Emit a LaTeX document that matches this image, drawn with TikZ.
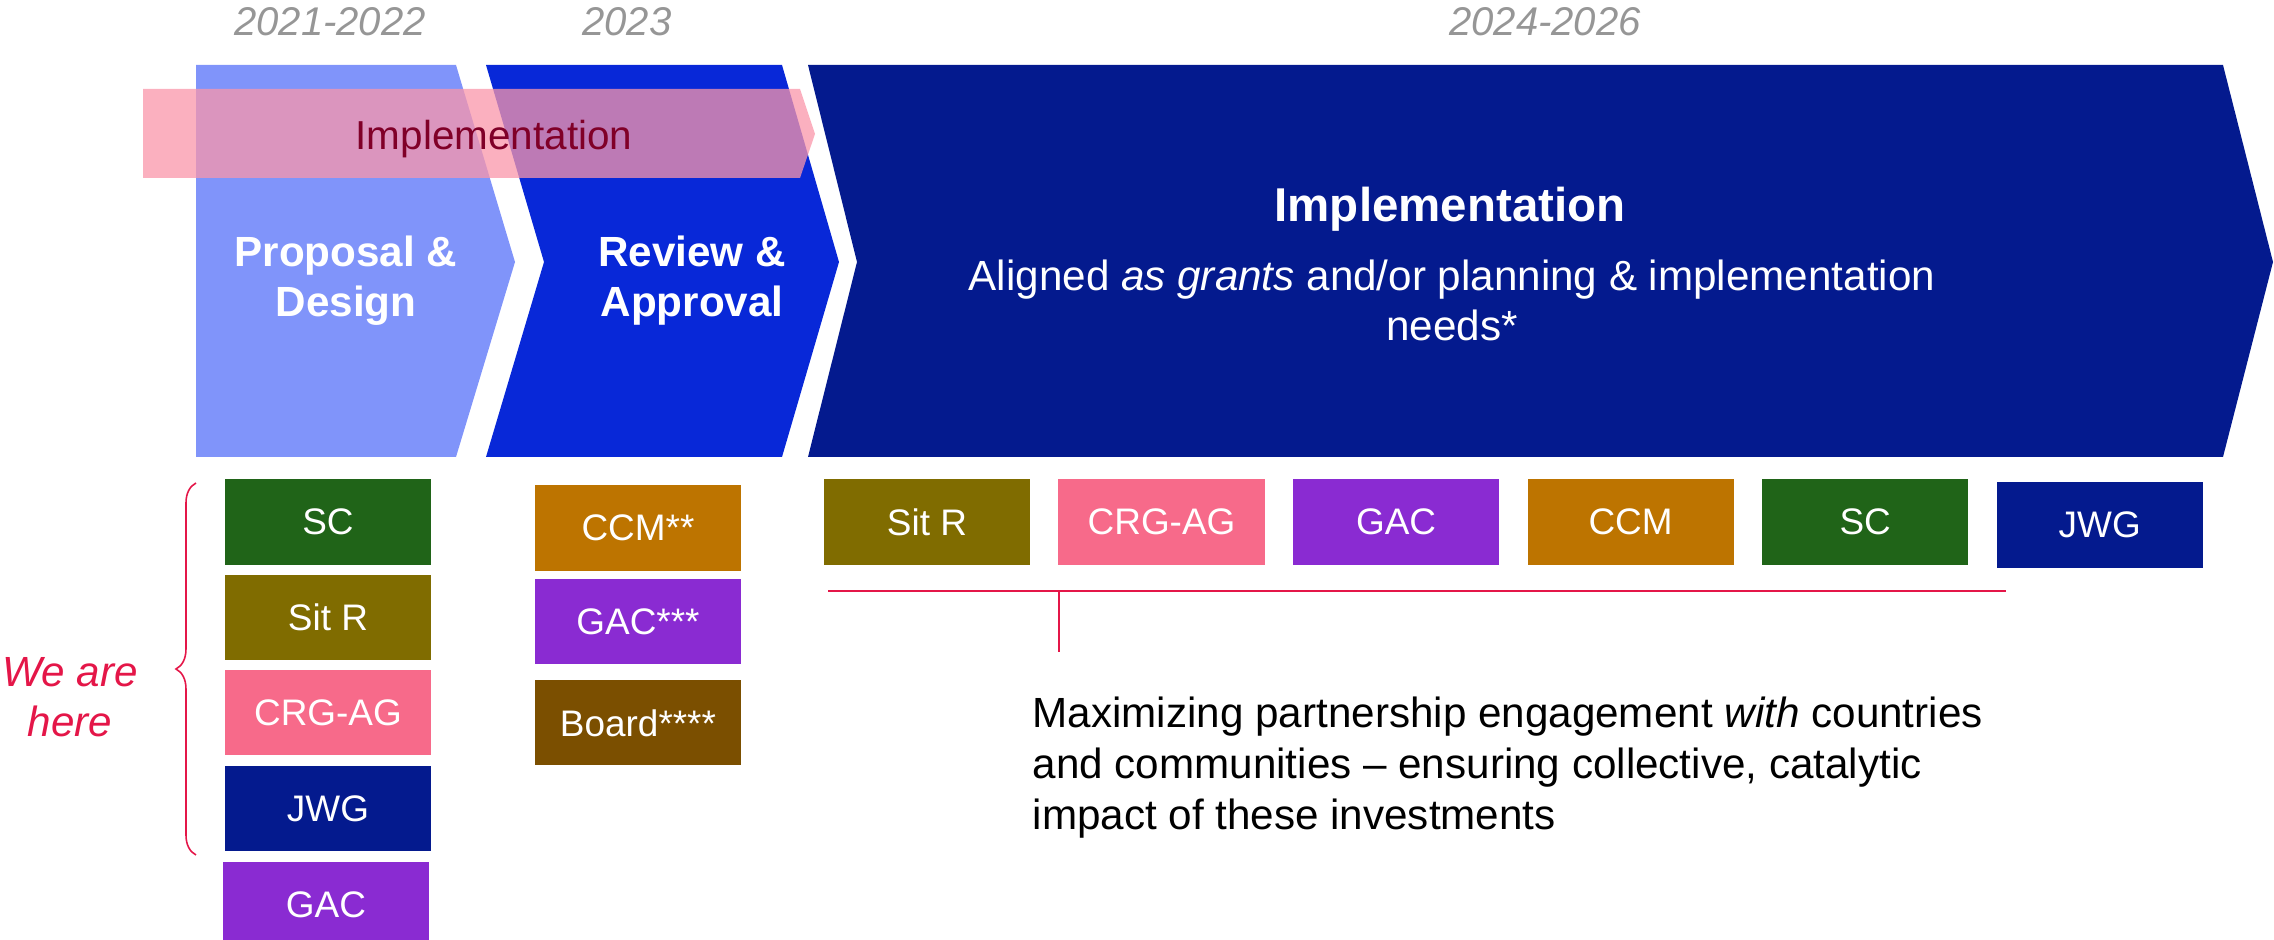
\documentclass[tikz,border=0pt]{standalone}
\usepackage{fontspec}
\setmainfont{Liberation Sans}
\usetikzlibrary{positioning,decorations.pathreplacing}
\definecolor{phaseA}{RGB}{128,148,250}
\definecolor{phaseB}{RGB}{8,40,216}
\definecolor{phaseC}{RGB}{4,26,142}
\definecolor{bandpink}{RGB}{250,150,170}
\definecolor{banddark}{RGB}{128,0,40}
\definecolor{yeargray}{RGB}{150,150,150}
\definecolor{scgreen}{RGB}{32,100,24}
\definecolor{sitolive}{RGB}{128,108,0}
\definecolor{crgpink}{RGB}{247,106,138}
\definecolor{gacpurple}{RGB}{138,43,210}
\definecolor{ccmorange}{RGB}{189,116,0}
\definecolor{boardbrown}{RGB}{123,79,0}
\definecolor{herered}{RGB}{228,22,72}
\tikzstyle{group} = [rectangle, minimum width = 2.06cm, minimum height = 0.85cm, inner sep = 0pt, text = white, font = \fontsize{10.5}{12}\selectfont]
\tikzstyle{yearlabel} = [anchor = base, inner sep = 0pt, text = yeargray, font = \fontsize{11.4}{13}\selectfont\itshape]
\tikzstyle{phasetext} = [align = center, inner sep = 0pt, text = white, font = \fontsize{12}{14.2}\selectfont\bfseries]
\tikzstyle{redline} = [draw = herered, line width = 0.6pt]
\tikzstyle{bracket} = [draw = herered, line width = 0.45pt, decorate, decoration = {brace, amplitude = 0.2cm}]

\begin{document}
\begin{tikzpicture}[x = 0.01cm, y = -0.01cm, node distance = 0.09cm]
\useasboundingbox (0,0) rectangle (2274,940);

% phases
\fill [phaseA] (196,65) -- (456,65) -- (515,262) -- (456,457) -- (196,457) -- cycle;
\fill [phaseB] (486,65) -- (782,65) -- (839,262) -- (782,457) -- (486,457) -- (544,262) -- cycle;
\fill [phaseC] (808,65) -- (2223,65) -- (2273,262) -- (2223,457) -- (808,457) -- (857,262) -- cycle;
\fill [bandpink, opacity = 0.75] (143,89) -- (800,89) -- (815,134) -- (800,178) -- (143,178) -- cycle;

\node (year1) [yearlabel] at (330,36) {2021-2022};
\node (year2) [yearlabel] at (627,36) {2023};
\node (year3) [yearlabel] at (1545,36) {2024-2026};

\node (bandtext) [anchor = base, inner sep = 0pt, text = banddark, font = \fontsize{11.5}{13}\selectfont] at (494,150) {Implementation};
\node (proposal) [phasetext] at (346,281) {Proposal \&\\Design};
\node (review) [phasetext] at (692,281) {Review \&\\Approval};
\node (impl) [anchor = base, inner sep = 0pt, text = white, font = \fontsize{13.5}{15}\selectfont\bfseries] at (1450,222) {Implementation};
\node (aligned) [align = center, inner sep = 0pt, text = white, font = \fontsize{12}{14.2}\selectfont] at (1452,300) {Aligned \textit{as grants} and/or planning \& implementation\\needs*};

% groups now
\node (sc) [group, fill = scgreen] at (328,522) {SC};
\node (sitr) [group, fill = sitolive, below = of sc] {Sit R};
\node (crgag) [group, fill = crgpink, below = of sitr] {CRG-AG};
\node (jwg) [group, fill = phaseC, below = of crgag] {JWG};
\node (gac) [group, fill = gacpurple, below = 0.1cm of jwg, xshift = -0.02cm] {GAC};

\node (ccm2) [group, fill = ccmorange] at (638,528) {CCM**};
\node (gac2) [group, fill = gacpurple, below = 0.07cm of ccm2] {GAC***};
\node (board) [group, fill = boardbrown, below = 0.15cm of gac2] {Board****};

% groups later
\node (sitr3) [group, fill = sitolive] at (927,522) {Sit R};
\node (crgag3) [group, fill = crgpink, right = 0.27cm of sitr3] {CRG-AG};
\node (gac3) [group, fill = gacpurple, right = 0.27cm of crgag3] {GAC};
\node (ccm3) [group, fill = ccmorange, right = 0.27cm of gac3] {CCM};
\node (sc3) [group, fill = scgreen, right = 0.27cm of ccm3] {SC};
\node (jwg3) [group, fill = phaseC, right = 0.27cm of sc3, yshift = -0.03cm] {JWG};

% we are here
\coordinate (braceTop) at (196,483);
\coordinate (braceBot) at (196,855);
\draw [bracket] (braceBot) -- (braceTop);
\node (here) [align = center, inner sep = 0pt, text = herered, font = \fontsize{12}{14.2}\selectfont\itshape] at (70,697) {We are\\here};

\coordinate (lineL) at (828,591);
\coordinate (lineR) at (2006,591);
\coordinate (tickTop) at (1059,591);
\coordinate (tickBot) at (1059,652);
\draw [redline] (lineL) -- (lineR);
\draw [draw = herered, line width = 0.3pt] (tickTop) -- (tickBot);

\node (maxim) [anchor = west, align = left, inner sep = 0pt, font = \fontsize{12}{14.5}\selectfont] at (1032,768) {Maximizing partnership engagement \textit{with} countries\\and communities -- ensuring collective, catalytic\\impact of these investments};

\end{tikzpicture}
\end{document}
